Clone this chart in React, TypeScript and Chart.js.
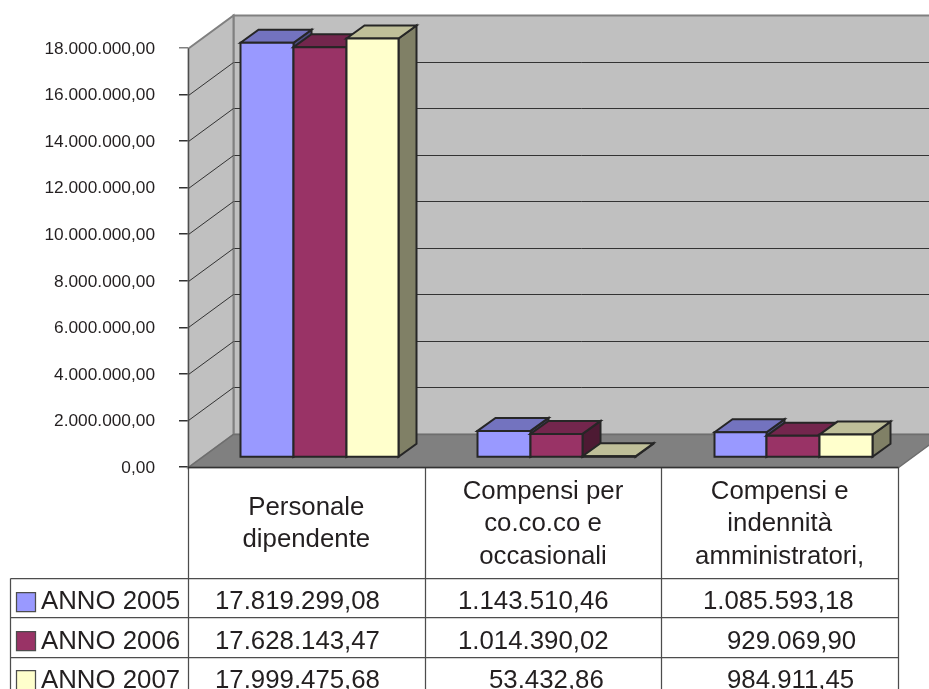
import React, { useEffect, useRef } from "react";
import { Chart, registerables } from "chart.js";

Chart.register(...registerables);

const categories = [["Personale", "dipendente"], ["Compensi per", "co.co.co e", "occasionali"], ["Compensi e", "indennità", "amministratori,"]];
const seriesNames = ["ANNO 2005", "ANNO 2006", "ANNO 2007"];
const anno2005 = [17819299.08, 1143510.46, 1085593.18];
const anno2006 = [17628143.47, 1014390.02, 929069.9];
const anno2007 = [17999475.68, 53432.86, 984911.45];
const front = ["#9999FF", "#993366", "#FFFFCC"];
const top3d = ["#7373BF", "#73264D", "#BFBF99"];
const side3d = ["#4D4D80", "#4D1A33", "#808066"];

const FONT = '"Liberation Sans", Arial, sans-serif';
const DX = 45, DY = 33;            // depth of the box
const BAR_SHIFT_X = 13, BAR_SHIFT_Y = 9.5;
const BDX = 18, BDY = 13;          // depth of a bar
const EDGE = "#262626";
const TEXT = "#231F20";

// x where the text of a table cell starts: [row][column]
const cellX = [[215, 458, 703], [215, 458, 727], [215, 489, 727]];
const rowLines = [578.5, 617.5, 657.5];
const rowText = [601.5, 641.5, 680.5];
const swatchTop = [592, 631, 670];

const fmt = (v: number) =>
  v.toLocaleString("de-DE", { minimumFractionDigits: 2, maximumFractionDigits: 2 });

function poly(ctx: CanvasRenderingContext2D, pts: number[][], fill: string | null, stroke: string | null, lw = 1.5) {
  ctx.beginPath();
  pts.forEach((p, i) => (i ? ctx.lineTo(p[0], p[1]) : ctx.moveTo(p[0], p[1])));
  ctx.closePath();
  if (fill) { ctx.fillStyle = fill; ctx.fill(); }
  if (stroke) { ctx.strokeStyle = stroke; ctx.lineWidth = lw; ctx.lineJoin = "miter"; ctx.stroke(); }
}

const box3d = {
  id: "box3d",
  beforeDatasetsDraw(chart: any) {
    const { ctx, chartArea: a, scales } = chart;
    const L = a.left + 0.5, R = a.right + 0.5, T = a.top + 0.5, B = a.bottom + 0.5;
    ctx.save();
    // back wall
    poly(ctx, [[L + DX, T - DY], [R + DX, T - DY], [R + DX, B - DY], [L + DX, B - DY]], "#C0C0C0", "#808080", 2);
    // grid lines on the back wall, then the side wall over them
    ctx.strokeStyle = "#333333";
    ctx.lineWidth = 1;
    const ys = scales.y.ticks.filter((t: any) => t.value > 0 && t.value < 18000000)
      .map((t: any) => Math.round(scales.y.getPixelForValue(t.value)) + 0.5);
    ys.forEach((y: number) => {
      ctx.beginPath();
      ctx.moveTo(L + DX, y - DY);
      ctx.lineTo(R + DX, y - DY);
      ctx.stroke();
    });
    poly(ctx, [[L, T], [L + DX, T - DY], [L + DX, B - DY], [L, B]], "#C0C0C0", "#808080", 2);
    ctx.strokeStyle = "#333333";
    ctx.lineWidth = 1;
    ys.forEach((y: number) => {
      ctx.beginPath();
      ctx.moveTo(L, y);
      ctx.lineTo(L + DX, y - DY);
      ctx.stroke();
    });
    // floor
    poly(ctx, [[L, B], [L + DX, B - DY], [R + DX, B - DY], [R, B]], "#808080", "#6E6E6E", 1.5);
    // left wall front edge
    ctx.strokeStyle = "#4D4D4D";
    ctx.lineWidth = 1;
    ctx.beginPath();
    ctx.moveTo(L, T);
    ctx.lineTo(L, B);
    ctx.stroke();
    ctx.restore();
  },
  beforeDatasetDraw() {
    return false;
  },
  afterDatasetsDraw(chart: any) {
    const { ctx } = chart;
    ctx.save();
    ctx.translate(BAR_SHIFT_X, -BAR_SHIFT_Y);
    chart.data.datasets.forEach((_: any, d: number) => {
      chart.getDatasetMeta(d).data.forEach((el: any) => {
        const l = Math.round(el.x - el.width / 2) + 0.5;
        const r = Math.round(el.x + el.width / 2) + 0.5;
        const t = el.y;
        const b = el.base;
        poly(ctx, [[r, t], [r + BDX, t - BDY], [r + BDX, b - BDY], [r, b]], side3d[d], EDGE, 2);
        poly(ctx, [[l, t], [l + BDX, t - BDY], [r + BDX, t - BDY], [r, t]], top3d[d], EDGE, 2);
        poly(ctx, [[l, t], [r, t], [r, b], [l, b]], front[d], EDGE, 2);
      });
    });
    ctx.restore();
  },
  afterDraw(chart: any) {
    const { ctx, chartArea: a, scales } = chart;
    const x = scales.x;
    const B = a.bottom + 0.5;
    const H = 689;
    ctx.save();
    const edges = [a.left + 0.5];
    categories.forEach((_, i) => edges.push(Math.round(x.getPixelForValue(i) + x.width / categories.length / 2) + 0.5));
    // table lines
    ctx.strokeStyle = "#4D4D4D";
    ctx.lineWidth = 1.25;
    edges.forEach((ex) => {
      ctx.beginPath();
      ctx.moveTo(ex, B);
      ctx.lineTo(ex, H);
      ctx.stroke();
    });
    rowLines.forEach((y) => {
      ctx.beginPath();
      ctx.moveTo(10.5, y);
      ctx.lineTo(edges[edges.length - 1], y);
      ctx.stroke();
    });
    ctx.beginPath();
    ctx.moveTo(10.5, rowLines[0]);
    ctx.lineTo(10.5, H);
    ctx.stroke();
    // baseline
    ctx.strokeStyle = "#333333";
    ctx.lineWidth = 1.5;
    ctx.beginPath();
    ctx.moveTo(a.left, B);
    ctx.lineTo(edges[edges.length - 1], B);
    ctx.stroke();
    // category labels
    ctx.fillStyle = TEXT;
    ctx.textBaseline = "middle";
    ctx.font = `25.8px ${FONT}`;
    ctx.textAlign = "center";
    categories.forEach((lines, i) => {
      const cx = x.getPixelForValue(i);
      const start = 524 - ((lines.length - 1) * 32.5) / 2;
      lines.forEach((s, j) => ctx.fillText(s, cx, start + j * 32.5));
    });
    // table rows
    ctx.textAlign = "left";
    chart.data.datasets.forEach((ds: any, r: number) => {
      poly(ctx, [[16.5, swatchTop[r] + 0.5], [35.5, swatchTop[r] + 0.5], [35.5, swatchTop[r] + 19.5], [16.5, swatchTop[r] + 19.5]], front[r], "#4D4D4D", 1.25);
      ctx.fillStyle = TEXT;
      ctx.fillText(seriesNames[r], 41, rowText[r]);
      ds.data.forEach((v: number, c: number) => ctx.fillText(fmt(v), cellX[r][c], rowText[r]));
    });
    ctx.restore();
  },
};

export default function App() {
  const ref = useRef<HTMLCanvasElement>(null);
  useEffect(() => {
    const chart = new Chart(ref.current!, {
      type: "bar",
      data: {
        labels: categories.map((c) => c.join(" ")),
        datasets: [
          { label: seriesNames[0], data: anno2005, backgroundColor: front[0] },
          { label: seriesNames[1], data: anno2006, backgroundColor: front[1] },
          { label: seriesNames[2], data: anno2007, backgroundColor: front[2] },
        ],
      },
      options: {
        responsive: false,
        animation: false,
        layout: { padding: { left: 0, right: 31, top: 48, bottom: 222 } },
        plugins: { legend: { display: false }, title: { display: false }, tooltip: { enabled: false } },
        datasets: { bar: { categoryPercentage: 0.668, barPercentage: 1 } },
        scales: {
          x: {
            ticks: { display: false },
            grid: { display: false },
            border: { display: false },
            afterFit: (s: any) => { s.height = 0; },
          },
          y: {
            min: 0,
            max: 18000000,
            afterFit: (s: any) => { s.width = 188; },
            ticks: {
              stepSize: 2000000,
              padding: 24,
              labelOffset: 1,
              color: TEXT,
              font: { family: FONT, size: 17.3 },
              callback: (v: any) => fmt(Number(v)),
            },
            grid: {
              drawOnChartArea: false,
              tickLength: 9,
              color: (c: any) => (c.tick && c.tick.value === 18000000 ? "#808080" : "#333333"),
              lineWidth: 1.5,
            },
            border: { display: false },
          },
        },
      },
      plugins: [box3d],
    } as any);
    return () => chart.destroy();
  }, []);
  return (
    <div style={{ position: "absolute", left: 0, top: 0, width: 929, height: 689, background: "#fff", overflow: "hidden" }}>
      <canvas ref={ref} width={929} height={689} style={{ display: "block" }} />
    </div>
  );
}
